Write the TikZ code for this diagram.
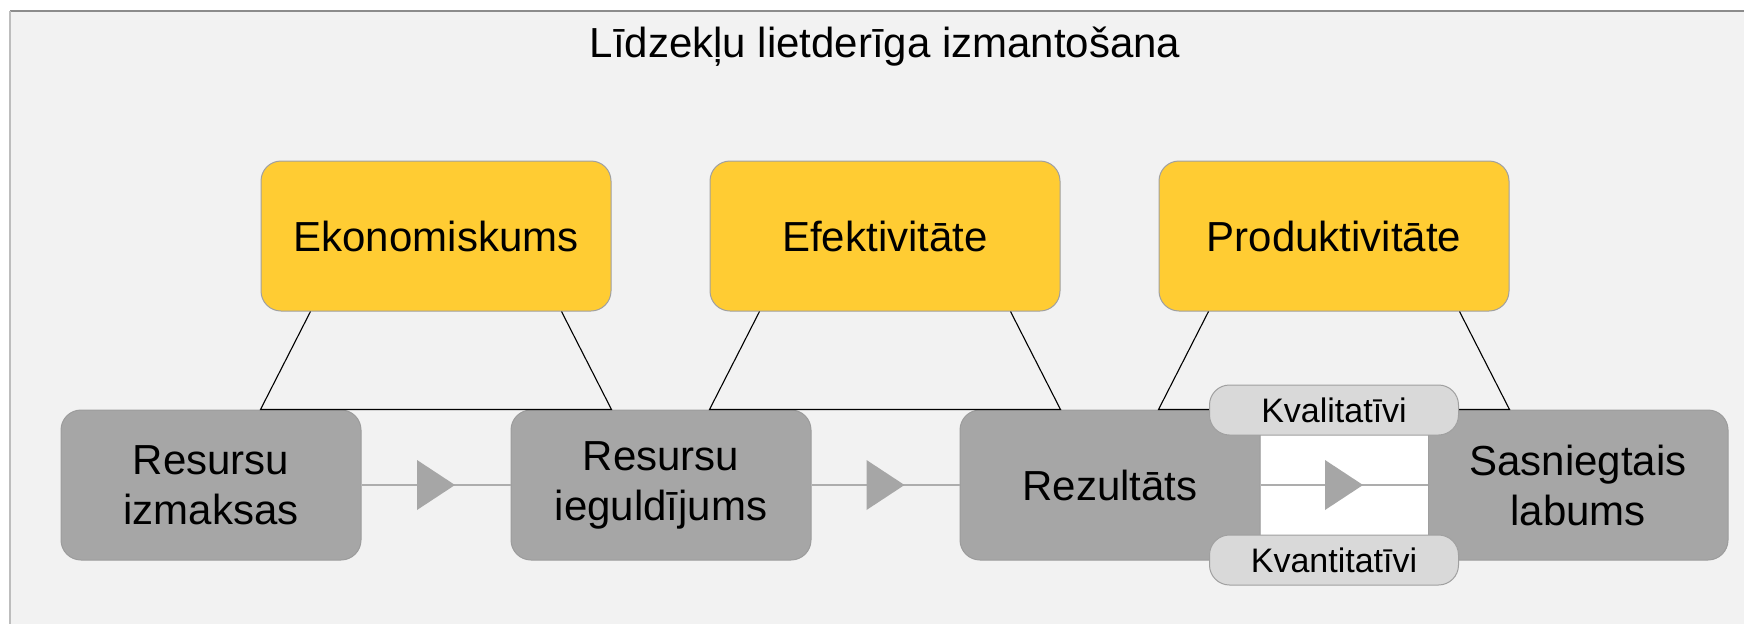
\documentclass[tikz,border=0pt]{standalone}
\usepackage{fontspec}
\setmainfont{Liberation Sans}
\usetikzlibrary{calc,decorations.markings}
\definecolor{bgc}{HTML}{F2F2F2}
\definecolor{yel}{HTML}{FFCC33}
\definecolor{ybord}{HTML}{A0A0A0}
\definecolor{grayc}{HTML}{A6A6A6}
\definecolor{gbord}{HTML}{9C9C9C}
\definecolor{pillc}{HTML}{D9D9D9}
\definecolor{linec}{HTML}{ADADAD}
\definecolor{tric}{HTML}{A6A6A6}
\definecolor{frtop}{HTML}{8C8C8C}
\definecolor{frleft}{HTML}{BDBDBD}
\begin{document}
\begin{tikzpicture}[x=1pt,y=-1pt,
  bigfont/.style={font=\fontsize{42}{50}\selectfont},
  ybox/.style={draw=ybord, fill=yel, line width=1pt, rounded corners=20pt, minimum width=350pt, minimum height=150pt, inner sep=0pt, bigfont},
  gbox/.style={draw=gbord, fill=grayc, line width=1pt, rounded corners=20pt, minimum width=300pt, minimum height=150pt, inner sep=0pt, align=center, bigfont},
  pill/.style={draw=ybord, fill=pillc, line width=1pt, rounded corners=20pt, minimum width=249pt, minimum height=50pt, inner sep=0pt, font=\fontsize{34}{40}\selectfont},
  trap/.style={draw=black, line width=1.1pt},
  conn/.style={draw=linec, line width=1.5pt, postaction={decorate},
    decoration={markings, mark=at position 0.5 with {\fill[tric] (-19,-25) -- (19,0) -- (-19,25) -- cycle;}}}
]
\useasboundingbox (0,0) rectangle (1744,624);
\fill[white] (0,0) rectangle (1744,624);
\fill[bgc] (10,11) rectangle (1744,624);
\draw[frtop, line width=1.2pt] (10,11) -- (1744,11);
\draw[frleft, line width=1.2pt] (10,11) -- (10,624);

\node[bigfont, anchor=base] (title) at (885,57) {Līdzekļu lietderīga izmantošana};

\node[ybox] (eko) at (436,236) {Ekonomiskums};
\node[ybox] (efe) at (885,236) {Efektivitāte};
\node[ybox] (pro) at (1334,236) {Produktivitāte};

\node[gbox] (res1) at (211,485) {Resursu\\izmaksas};
\node[gbox] (res2) at (661,485) {Resursu\\ieguldījums};
\node[gbox] (rez) at (1110,485) {Rezultāts};
\node[gbox] (sas) at (1578,485) {Sasniegtais\\labums};

\fill[white] ($(rez.east)+(0,-50)$) rectangle ($(sas.west)+(0,50)$);

\foreach \n in {eko,efe,pro}{
  \draw[trap] ($(\n.south west)+(50,0)$) -- (\n.south west |- res1.north)
    -- (\n.south east |- res1.north) -- ($(\n.south east)+(-50,0)$);
}

\draw[conn] (res1) -- (res2);
\draw[conn] (res2) -- (rez);
\draw[conn] (rez) -- (sas);

\node[pill] (kval) at (1334,410) {Kvalitatīvi};
\node[pill] (kvan) at (1334,560) {Kvantitatīvi};
\end{tikzpicture}
\end{document}
